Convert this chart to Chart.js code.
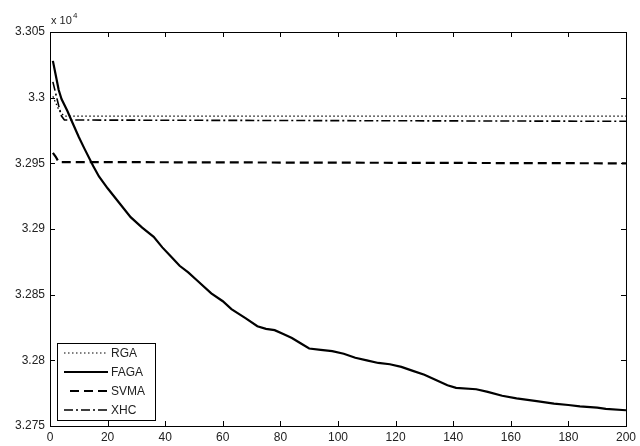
<!DOCTYPE html>
<html><head><meta charset="utf-8">
<script src="https://cdn.jsdelivr.net/npm/chart.js@4"></script>
<style>html,body{margin:0;padding:0;background:#fff}#wrap{width:640px;height:446px;position:relative}</style>
</head><body><div id="wrap"><canvas id="c" width="640" height="446"></canvas></div>
<script>
const xTicks = [0,20,40,60,80,100,120,140,160,180,200];
const yTicks = [3.275,3.28,3.285,3.29,3.295,3.3,3.305];
const seriesNames = ["RGA","FAGA","SVMA","XHC"];

const rgaX = [1,2,3,4,5,200];
const rgaY = [3.3001,3.2996,3.2991,3.2988,3.2986,3.2986];

const fagaX = [1,2,3,4,6,8,10,12,15,17,20,24,28,32,36,39,42,45,48,51,56,60,63,68,72,75,78,81,84,87,90,94,98,102,106,110,114,118,122,126,130,134,138,141,148,152,157,162,169,175,180,184,190,193,200];
const fagaY = [3.3028,3.3017,3.3006,3.2999,3.2990,3.2980,3.2970,3.2961,3.2948,3.2940,3.2931,3.2920,3.2909,3.2901,3.2894,3.2886,3.2879,3.2872,3.2867,3.2861,3.2851,3.2845,3.2839,3.2832,3.2826,3.2824,3.2823,3.2820,3.2817,3.2813,3.2809,3.2808,3.2807,3.2805,3.2802,3.2800,3.2798,3.2797,3.2795,3.2792,3.2789,3.2785,3.2781,3.2779,3.2778,3.2776,3.2773,3.2771,3.2769,3.2767,3.2766,3.2765,3.2764,3.2763,3.2762];

const svmaX = [1,2,3,200];
const svmaY = [3.2958,3.2955,3.2951,3.2950];

const xhcX = [1,2,3,4,5,200];
const xhcY = [3.3012,3.3003,3.2994,3.2986,3.2983,3.2982];

function pts(xs, ys){ return xs.map((x,i)=>({x:x, y:ys[i]})); }

const styles = [
  {borderWidth:1.2, borderDash:[1.5,2.5]},
  {borderWidth:2.2, borderDash:[]},
  {borderWidth:2.2, borderDash:[9,5]},
  {borderWidth:1.6, borderDash:[9,3,2,3]}
];
const dataSets = [pts(rgaX,rgaY), pts(fagaX,fagaY), pts(svmaX,svmaY), pts(xhcX,xhcY)];

const FONT = '"Liberation Sans", Arial, sans-serif';

const boxPlugin = {
  id:'box',
  afterDraw(chart){
    const {ctx, chartArea:a, scales:{x, y}} = chart;
    ctx.save();
    ctx.strokeStyle = '#000'; ctx.lineWidth = 1; ctx.setLineDash([]);
    ctx.strokeRect(a.left+0.5, a.top+0.5, a.right-a.left, a.bottom-a.top);
    const L = 5;
    ctx.beginPath();
    x.ticks.forEach((t)=>{
      const px = Math.round(x.getPixelForValue(t.value))+0.5;
      ctx.moveTo(px, a.bottom); ctx.lineTo(px, a.bottom-L);
      ctx.moveTo(px, a.top); ctx.lineTo(px, a.top+L);
    });
    y.ticks.forEach((t)=>{
      const py = Math.round(y.getPixelForValue(t.value))+0.5;
      ctx.moveTo(a.left, py); ctx.lineTo(a.left+L, py);
      ctx.moveTo(a.right, py); ctx.lineTo(a.right-L, py);
    });
    ctx.stroke();
    ctx.fillStyle = '#222';
    ctx.font = '11px ' + FONT;
    ctx.textBaseline = 'alphabetic';
    ctx.fillText('x 10', a.left+1, a.top-8);
    ctx.font = '8px ' + FONT;
    ctx.fillText('4', a.left+23, a.top-14);
    const lx = 57, ly = 343, lw = 98, lh = 77;
    ctx.fillStyle = '#fff';
    ctx.fillRect(lx, ly, lw, lh);
    ctx.strokeRect(lx+0.5, ly+0.5, lw, lh);
    ctx.font = '12px ' + FONT;
    ctx.textBaseline = 'middle';
    chart.data.datasets.forEach((ds,i)=>{
      const yy = ly + 10 + i*19;
      ctx.strokeStyle = '#000';
      ctx.lineWidth = ds.borderWidth;
      ctx.setLineDash(ds.borderDash);
      ctx.beginPath();
      ctx.moveTo(i===2 ? 70 : 64, yy); ctx.lineTo(108, yy);
      ctx.stroke();
      ctx.setLineDash([]);
      ctx.fillStyle = '#222';
      ctx.fillText(ds.label, 111, yy+1);
    });
    ctx.restore();
  }
};

new Chart(document.getElementById('c'), {
  type:'line',
  data:{
    datasets: dataSets.map((d,i)=>({
      label: seriesNames[i], data: d,
      borderColor:'#000', backgroundColor:'#000',
      borderWidth: styles[i].borderWidth, borderDash: styles[i].borderDash,
      pointRadius:0, tension:0, fill:false
    }))
  },
  options:{
    responsive:false, animation:false,
    layout:{padding:{top:32, right:10, left:0, bottom:0}},
    plugins:{legend:{display:false}, tooltip:{enabled:false}},
    scales:{
      x:{type:'linear', min:0, max:200,
        afterBuildTicks(s){ s.ticks = xTicks.map(v=>({value:v})); },
        afterFit(s){ s.height = 20; },
        grid:{display:false, drawTicks:false}, border:{display:false},
        ticks:{color:'#222', font:{family:FONT, size:12}, padding:4, maxRotation:0,
          callback:v=>String(v)}
      },
      y:{type:'linear', min:3.275, max:3.305,
        afterBuildTicks(s){ s.ticks = yTicks.map(v=>({value:v})); },
        afterFit(s){ s.width = 50; },
        grid:{display:false, drawTicks:false}, border:{display:false},
        ticks:{color:'#222', font:{family:FONT, size:12}, padding:5,
          callback:v=>String(parseFloat(Number(v).toFixed(3)))}
      }
    }
  },
  plugins:[boxPlugin]
});
</script></body></html>
